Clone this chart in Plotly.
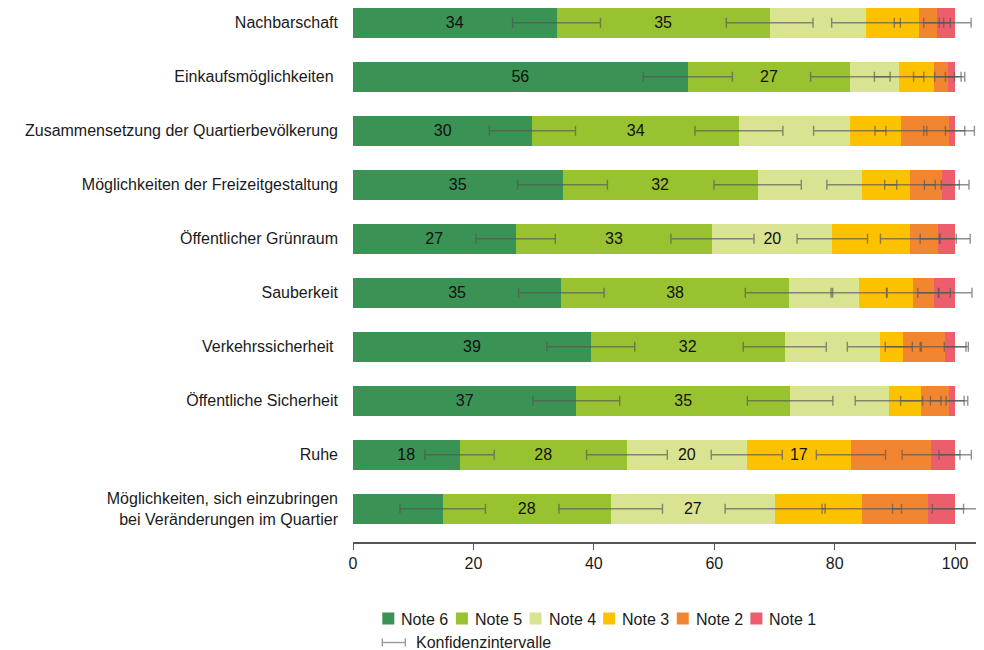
import numpy as np
import plotly.graph_objs as go

# Kategorien (von oben nach unten)
kategorien = [
    "Nachbarschaft",
    "Einkaufsmöglichkeiten\u00a0",
    "Zusammensetzung der Quartierbevölkerung",
    "Möglichkeiten der Freizeitgestaltung",
    "Öffentlicher Grünraum",
    "Sauberkeit",
    "Verkehrssicherheit\u00a0",
    "Öffentliche Sicherheit",
    "Ruhe",
    "Möglichkeiten, sich einzubringen<br>bei Veränderungen im Quartier",
]

# Anteile in Prozent je Note
note6 = [33.8, 55.6, 29.8, 34.8, 27.0, 34.6, 39.5, 37.1, 17.7, 14.9]
note5 = [35.4, 27.0, 34.3, 32.4, 32.7, 37.8, 32.2, 35.5, 27.8, 27.9]
note4 = [16.0, 8.1, 18.4, 17.3, 19.9, 11.6, 15.8, 16.4, 19.9, 27.3]
note3 = [8.8, 5.8, 8.5, 8.0, 12.9, 9.0, 3.8, 5.3, 17.3, 14.4]
note2 = [3.0, 2.3, 8.0, 5.3, 4.7, 3.5, 7.0, 4.7, 13.3, 11.0]
note1 = [3.0, 1.2, 1.0, 2.2, 2.8, 3.5, 1.7, 1.0, 4.0, 4.5]

# Konfidenzintervalle (halbe Breite, Prozentpunkte)
ci6 = [7.3, 7.4, 7.15, 7.45, 6.6, 7.1, 7.3, 7.2, 5.75, 7.1]
ci5 = [7.2, 6.6, 7.3, 7.25, 6.9, 7.25, 6.9, 7.1, 6.7, 8.6]
ci4 = [5.7, 4.1, 6.0, 5.8, 5.85, 4.6, 5.4, 5.6, 5.9, 8.3]
ci3 = [4.1, 3.4, 4.3, 4.2, 4.9, 4.3, 2.9, 3.35, 5.75, 6.6]
ci2 = [2.2, 2.2, 4.2, 2.9, 3.0, 2.7, 3.9, 3.1, 4.8, 5.9]
ci1 = [2.65, 1.6, 1.6, 2.3, 2.5, 2.8, 1.8, 1.5, 2.7, 3.8]

# Beschriftungen in den Balken
text6 = ["34", "56", "30", "35", "27", "35", "39", "37", "18", ""]
text5 = ["35", "27", "34", "32", "33", "38", "32", "35", "28", "28"]
text4 = ["", "", "", "", "20", "", "", "", "20", "27"]
text3 = ["", "", "", "", "", "", "", "", "17", ""]
text2 = [""] * 10
text1 = [""] * 10

noten = ["Note 6", "Note 5", "Note 4", "Note 3", "Note 2", "Note 1"]
farben = ["#3a9254", "#98c22f", "#d9e392", "#fcc200", "#f28630", "#ec5e6b"]
ci_label = "Konfidenzintervalle"

werte = [note6, note5, note4, note3, note2, note1]
cis = [ci6, ci5, ci4, ci3, ci2, ci1]
texte = [text6, text5, text4, text3, text2, text1]

FONT = "Liberation Sans, Arial, sans-serif"
TXT = "#1a1a1a"
CI_COL = "rgba(85,85,85,0.65)"

# Seite hat 8px Rand (body margin), daher 976x642
W, H = 976, 642
ML, MR, MT, MB = 344.7, 6.4, 0, 108
PW = W - ML - MR
PH = H - MT - MB


def px_x(p):
    # Seitenpixel -> paper-x
    return (p - 8 - ML) / PW


def px_y(p):
    # Seitenpixel -> paper-y
    return (H - MB + 8 - p) / PH


fig = go.Figure()

for name, farbe, w, t in zip(noten, farben, werte, texte):
    fig.add_trace(go.Bar(
        y=kategorien, x=w, name=name, orientation="h",
        marker=dict(color=farbe, line=dict(width=0)),
        text=t, textposition="inside", insidetextanchor="middle",
        textangle=0, textfont=dict(size=16, color="#111111"),
        hoverinfo="x+name",
    ))

# Fehlerbalken an den kumulierten Grenzen
kumuliert = np.cumsum(np.array(werte), axis=0)
for k, ci in zip(kumuliert, cis):
    fig.add_trace(go.Scatter(
        y=kategorien, x=k, mode="markers",
        marker=dict(size=1, color="rgba(0,0,0,0)"),
        error_x=dict(type="data", array=ci, visible=True,
                     color=CI_COL, thickness=1.4, width=5),
        showlegend=False, hoverinfo="skip",
    ))

# Legende von Hand (Quadrate + Text)
shapes = []
annotations = []
x0 = 382
for i, (name, farbe) in enumerate(zip(noten, farben)):
    left = x0 + i * 73.6
    shapes.append(dict(type="rect", xref="paper", yref="paper",
                       x0=px_x(left), x1=px_x(left + 12),
                       y0=px_y(624.5), y1=px_y(612.5),
                       fillcolor=farbe, line=dict(width=0)))
    annotations.append(dict(xref="paper", yref="paper", x=px_x(left + 17),
                            y=px_y(619), text=name, showarrow=False,
                            xanchor="left", yanchor="middle",
                            font=dict(size=16, color=TXT)))

# Legendeneintrag Konfidenzintervalle
lx0, lx1, ly = 382, 405, 642.5
shapes.append(dict(type="line", xref="paper", yref="paper",
                   x0=px_x(lx0), x1=px_x(lx1), y0=px_y(ly), y1=px_y(ly),
                   line=dict(color="#9a9a9a", width=1.4)))
for cx in (lx0, lx1):
    shapes.append(dict(type="line", xref="paper", yref="paper",
                       x0=px_x(cx), x1=px_x(cx),
                       y0=px_y(ly - 4), y1=px_y(ly + 4),
                       line=dict(color="#9a9a9a", width=1.4)))
annotations.append(dict(xref="paper", yref="paper", x=px_x(414),
                        y=px_y(642), text=ci_label, showarrow=False,
                        xanchor="left", yanchor="middle",
                        font=dict(size=16, color=TXT)))

fig.update_layout(
    width=W, height=H,
    barmode="stack", bargap=0.45,
    plot_bgcolor="white", paper_bgcolor="white",
    font=dict(family=FONT, size=16, color=TXT),
    margin=dict(l=ML, r=MR, t=MT, b=MB, autoexpand=False),
    showlegend=False,
    shapes=shapes, annotations=annotations,
)

fig.update_xaxes(
    range=[0, 103.8], tickvals=[0, 20, 40, 60, 80, 100], automargin=False,
    showgrid=False, zeroline=False, showline=True, linecolor="#555555",
    linewidth=1.5, ticks="outside", ticklen=6, tickcolor="#555555",
    tickfont=dict(size=16, color=TXT),
)
fig.update_yaxes(
    type="category", categoryorder="array", categoryarray=kategorien,
    range=[9.615, -0.274], showgrid=False, zeroline=False, showline=False,
    automargin=False, ticks="", ticklabelstandoff=14,
    tickfont=dict(size=16, color=TXT),
)

fig.write_html("out.html")
